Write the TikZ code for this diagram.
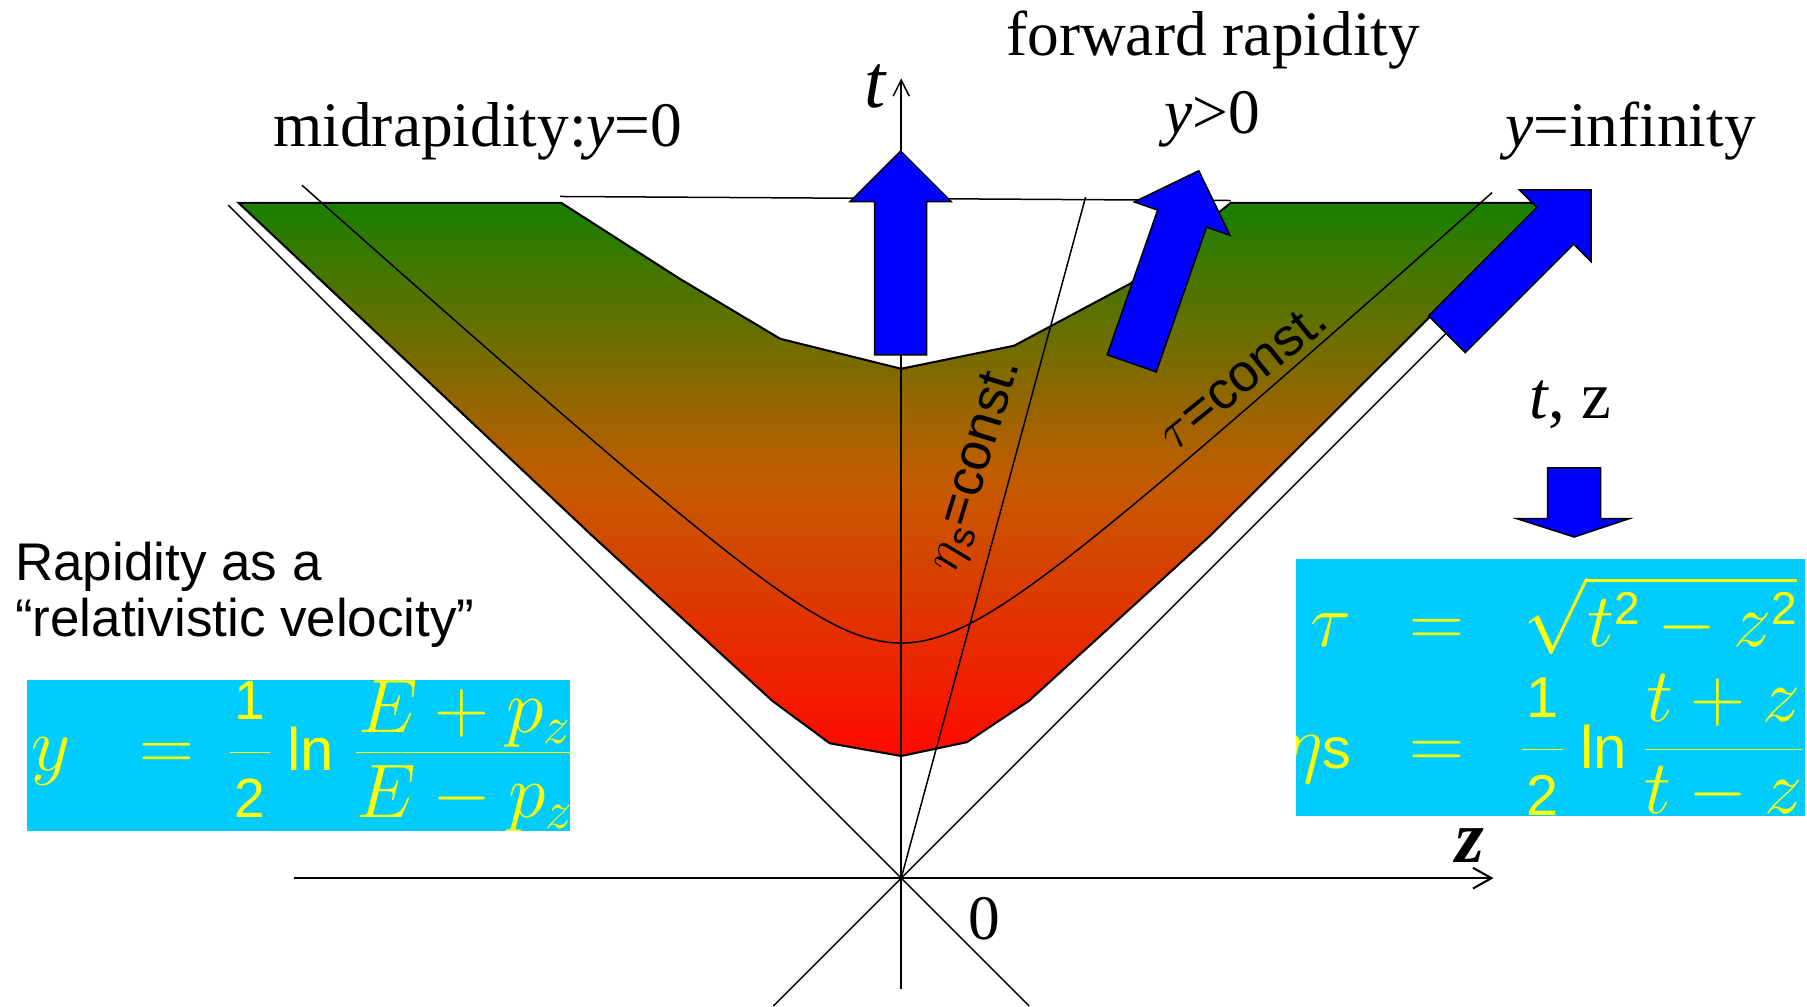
\documentclass[tikz,border=0pt]{standalone}
\usepackage{fix-cm}
\usepackage{fontspec}
\usetikzlibrary{arrows.meta}
\newfontfamily\timesf{Liberation Serif}
\newfontfamily\arialf{Liberation Sans}
\definecolor{regtop}{RGB}{25,128,0}
\definecolor{regmid}{RGB}{195,92,0}
\definecolor{regbot}{RGB}{255,10,0}
\definecolor{arrblue}{RGB}{0,0,255}
\definecolor{boxcyan}{RGB}{0,204,255}
\definecolor{formyel}{RGB}{255,255,0}
\newcommand{\fs}[1]{\fontsize{#1}{#1}\selectfont}
\newcommand{\shiftbox}[2]{\raisebox{#1}[0pt][0pt]{$#2$}}
\begin{document}
\begin{tikzpicture}[x=1pt,y=1pt,
  lightline/.style={line width=1.3pt, black},
  axisline/.style={line width=1.8pt, black},
  regionstyle/.style={draw=black, line width=1.8pt, top color=regtop, bottom color=regbot, middle color=regmid},
  bluearrow/.style={fill=arrblue, draw=black, line width=1.3pt},
  serlabel/.style={inner sep=0pt, anchor=base west, font=\timesf\fs{55}},
  sanslabel/.style={inner sep=0pt, font=\arialf\fs{46}},
  mathbox/.style={fill=boxcyan, draw=none},
  fml/.style={inner sep=0pt, text=formyel, font=\fs{66}},
  fatarrow/.pic={\filldraw[bluearrow] (-22.5,0) -- (-22.5,133) -- (-44,133) -- (0,177) -- (44,133) -- (22.5,133) -- (22.5,0) -- cycle;}
]
\useasboundingbox (0,0) rectangle (1568,873);

% shaded region
\shadedraw[regionstyle] (207,697) -- (487,697) -- (590,631) -- (677,579) -- (782,553) -- (880,573) -- (981,627) -- (1068,697) -- (1340,697) -- (1050,408) -- (893,265) -- (839,229) -- (782,217) -- (720,228) -- (670,265) -- (514,408) -- cycle;
\draw[lightline] (486,702.5) -- (1068,699);

% light cone
\coordinate (O) at (782,111);
\draw[lightline] (198,695) -- (O) -- (893,0);
\draw[lightline] (671,0) -- (O) -- (1256,585);

% axes
\draw[lightline, -{Straight Barb[length=14pt,width=14pt]}] (782,15) -- (782,805);
\draw[axisline, -{Straight Barb[length=16pt,width=18pt]}] (255,111) -- (1296,111);

% tau = const
\draw[lightline] plot[domain=-5.2:5.13, samples=120, smooth] ({782+100*\x}, {238+100*sqrt(0.5929+0.81*\x*\x)});
% eta = const
\draw[lightline] (O) -- (942,702);

% blue arrows
\pic at (781.5,565) {fatarrow};
\pic[rotate=-19.2] at (982,557.7) {fatarrow};
\pic[rotate=-45] at (1255.5,583) {fatarrow};
\filldraw[bluearrow] (1343,467) -- (1389,467) -- (1389,423) -- (1414,423) -- (1366,407) -- (1316,423) -- (1343,423) -- cycle;

% labels
\node[serlabel] (fwd) at (873,825) {forward rapidity};
\node[serlabel] (mid) at (237,745.5) {midrapidity:\textit{y}=0};
\node[serlabel] (ypos) at (1010,757) {\textit{y}>0};
\node[serlabel] (yinf) at (1306,745.7) {\textit{y}=infinity};
\node[serlabel, font=\timesf\fs{66}\itshape] (tlab) at (750,780) {t};
\node[serlabel, font=\timesf\fs{58}] (tz) at (1327,510) {\textit{t}, z};
\node[serlabel, font=\timesf\fs{64}\bfseries\itshape] (zlab) at (1263,125) {z};
\node[serlabel] (zero) at (840,58) {0};

\node[inner sep=0pt, anchor=base west, font=\arialf\fs{46}] (rap1) at (13,369.7) {Rapidity as a};
\node[inner sep=0pt, anchor=base west, font=\arialf\fs{46}] (rap2) at (13,320.5) {“relativistic velocity”};

\node[sanslabel, rotate=73] (etalab) at (847,469) {$\eta$\textsubscript{s}=const.};
\node[sanslabel, rotate=39] (taulab) at (1078,547) {$\tau$=const.};

% left formula box
\fill[mathbox] (23,152) rectangle (495,283);
\begin{scope}
\clip (23,152) rectangle (495,283);
\node[fml, anchor=base west] (fy) at (27,204) {$y$};
\node[fml, anchor=base] (feqa) at (145,204) {$=$};
\node[fml, anchor=base west] (frhsa) at (198,204) {$\displaystyle\frac{\hspace{4pt}\mbox{\arialf\fs{48}1}\hspace{4pt}}{\raisebox{5pt}[0pt][0pt]{\arialf\fs{48}2}}\hspace{14pt}\mbox{\arialf\fs{52}ln}\hspace{18pt}\frac{\shiftbox{-11pt}{E+p_z}}{\shiftbox{5pt}{E-p_z}}$};
\end{scope}

% right formula box
\fill[mathbox] (1125,165) rectangle (1566,388);
\begin{scope}
\clip (1125,165) rectangle (1566,388);
\node[fml, anchor=base east] (ftau) at (1173,312) {$\tau$};
\node[fml, anchor=base] (feqb) at (1247,312) {$=$};
\node[fml, anchor=base west] (fsqrt) at (1322,312) {$\displaystyle\sqrt{t^{\mbox{\arialf\fs{40}2}}-z^{\mbox{\arialf\fs{40}2}}}$};
\node[fml, anchor=base east] (feta) at (1173,206) {$\eta$\mbox{\arialf\fs{50}s}};
\node[fml, anchor=base] (feqc) at (1247,206) {$=$};
\node[fml, anchor=base west] (frhsb) at (1319,206) {$\displaystyle\frac{\hspace{4pt}\mbox{\arialf\fs{50}1}\hspace{4pt}}{\raisebox{5pt}[0pt][0pt]{\arialf\fs{50}2}}\hspace{14pt}\mbox{\arialf\fs{52}ln}\hspace{14pt}\frac{\shiftbox{-4pt}{t+z}}{\shiftbox{6pt}{t-z}}$};
\end{scope}
\end{tikzpicture}
\end{document}
